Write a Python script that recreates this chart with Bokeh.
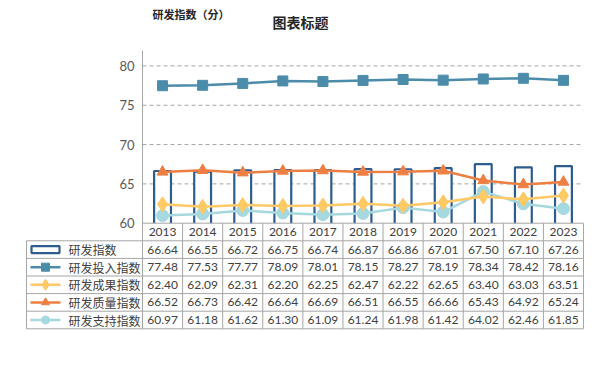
from bokeh.plotting import figure
from bokeh.models import Range1d, FixedTicker
from bokeh.core.properties import value
from bokeh.embed import file_html
from bokeh.resources import INLINE

# ---------------- data ----------------
years = ["2013", "2014", "2015", "2016", "2017", "2018", "2019", "2020", "2021", "2022", "2023"]
rd_index = [66.64, 66.55, 66.72, 66.75, 66.74, 66.87, 66.86, 67.01, 67.50, 67.10, 67.26]
rd_input = [77.48, 77.53, 77.77, 78.09, 78.01, 78.15, 78.27, 78.19, 78.34, 78.42, 78.16]
rd_output = [62.40, 62.09, 62.31, 62.20, 62.25, 62.47, 62.22, 62.65, 63.40, 63.03, 63.51]
rd_quality = [66.52, 66.73, 66.42, 66.64, 66.69, 66.51, 66.55, 66.66, 65.43, 64.92, 65.24]
rd_support = [60.97, 61.18, 61.62, 61.30, 61.09, 61.24, 61.98, 61.42, 64.02, 62.46, 61.85]
series_names = ["研发指数", "研发投入指数", "研发成果指数", "研发质量指数", "研发支持指数"]
y_ticks = [60, 65, 70, 75, 80]
title_text = "图表标题"
y_label_text = "研发指数（分）"

# ---------------- style ----------------
C_BAR = "#2F5C8E"
C_IN = "#4C8CAB"
C_OUT = "#FFC966"
C_QUAL = "#EE7F43"
C_SUP = "#A6D8DF"
C_GRID = "#A6A6A6"
C_TEXT = "#404040"
NUM_FONT = "Lato"
CJK_FONT = "Noto Sans CJK SC"

W, H = 592, 345
BORDER_L = 23
n = len(years)
idx = list(range(n))

# picture-pixel geometry of the chart area
AX_X = 142.0            # x of y axis (x = -0.5)
XS = 441.0 / n          # px per category
Y_BASE_PX = 222.7       # y of value 60
YS = 157.3 / 20.0       # px per value unit
Y_MIN = 60
Y_AXIS_TOP = 82
ROW_H = 17.6
BAR_W = 0.42


def pxx(px):
    return -0.5 + (px - AX_X) / XS


def pyy(py):
    return Y_MIN - (py - Y_BASE_PX) / YS


p = figure(width=W, height=H, output_backend="svg", toolbar_location=None,
           x_range=Range1d(pxx(BORDER_L), pxx(W)),
           y_range=Range1d(pyy(H), pyy(0)),
           x_axis_location=None,
           min_border_left=BORDER_L, min_border_right=0,
           min_border_top=0, min_border_bottom=0,
           background_fill_color="white", border_fill_color="white")
p.outline_line_color = None
p.grid.visible = False

# y axis fixed at the left edge of the category area
yax = p.yaxis[0]
yax.fixed_location = -0.5
yax.bounds = (Y_MIN, Y_AXIS_TOP)
yax.ticker = FixedTicker(ticks=y_ticks, minor_ticks=[])
yax.axis_line_color = C_GRID
yax.major_tick_out = 0
yax.major_tick_in = 0
yax.minor_tick_out = 0
yax.minor_tick_in = 0
yax.major_label_text_font = NUM_FONT
yax.major_label_text_font_size = "13px"
yax.major_label_text_color = "#595959"
yax.major_label_standoff = 8

# dashed horizontal grid lines over the category area
gt = y_ticks[1:]
p.segment(x0=[-0.5] * len(gt), y0=gt, x1=[n - 0.5] * len(gt), y1=gt,
          line_color=C_GRID, line_width=1, line_dash="4 3")

# bars: white fill, outline open at the bottom
p.vbar(x=idx, top=rd_index, bottom=Y_MIN, width=BAR_W, fill_color="white", line_color=None)
bx = [[i - BAR_W / 2, i - BAR_W / 2, i + BAR_W / 2, i + BAR_W / 2] for i in idx]
by = [[Y_MIN, v, v, Y_MIN] for v in rd_index]
p.multi_line(xs=bx, ys=by, line_color=C_BAR, line_width=2.2)

# lines
p.line(idx, rd_support, line_color=C_SUP, line_width=2.5)
p.scatter(idx, rd_support, marker="circle", size=12, color=C_SUP)
p.line(idx, rd_output, line_color=C_OUT, line_width=2.5)
p.scatter(idx, rd_output, marker="diamond", size=15, color=C_OUT)
p.line(idx, rd_quality, line_color=C_QUAL, line_width=2.5)
p.scatter(idx, rd_quality, marker="triangle", size=11, color=C_QUAL)
p.line(idx, rd_input, line_color=C_IN, line_width=2.5)
p.scatter(idx, rd_input, marker="square", size=10, color=C_IN)

# titles
p.text(x=[pxx(300)], y=[pyy(21.5)], text=[title_text], text_align="center", text_baseline="middle",
       text_font=value(CJK_FONT), text_font_size=value("14px"), text_font_style="bold",
       text_color="#262626")
p.text(x=[pxx(190.5)], y=[pyy(13.5)], text=[y_label_text], text_align="center", text_baseline="middle",
       text_font=value(CJK_FONT), text_font_size=value("11px"), text_font_style="bold",
       text_color="#262626")

# ---------------- data table ----------------
nrows = len(series_names)
row_b = [pyy(Y_BASE_PX + k * ROW_H) for k in range(nrows + 2)]   # row boundaries (year row + series rows)
row_c = [(row_b[k] + row_b[k + 1]) / 2 for k in range(nrows + 1)]
x_left = pxx(26)

# horizontal lines
hx0 = [-0.5] + [x_left] * (nrows + 1)
hx1 = [n - 0.5] * (nrows + 2)
p.segment(x0=hx0, y0=row_b, x1=hx1, y1=row_b, line_color=C_GRID, line_width=1)
# vertical lines
vx = [i - 0.5 for i in range(n + 1)] + [x_left]
vy0 = [row_b[0]] * (n + 1) + [row_b[1]]
vy1 = [row_b[-1]] * (n + 2)
p.segment(x0=vx, y0=vy0, x1=vx, y1=vy1, line_color=C_GRID, line_width=1)

# year row
p.text(x=idx, y=[row_c[0]] * n, text=years, text_align="center", text_baseline="middle",
       text_font=value(NUM_FONT), text_font_size=value("12px"), text_color=C_TEXT)

all_series = [rd_index, rd_input, rd_output, rd_quality, rd_support]
for r, vals in enumerate(all_series):
    p.text(x=idx, y=[row_c[r + 1]] * n, text=[f"{v:.2f}" for v in vals], text_align="center",
           text_baseline="middle", text_font=value(NUM_FONT), text_font_size=value("12px"),
           text_color=C_TEXT)

# legend column
sx0, sx1 = pxx(30), pxx(60)
sxc = (sx0 + sx1) / 2
label_x = pxx(68)
leg_y = row_c[1:]
p.rect(x=[sxc], y=[leg_y[0]], width=28, height=7, width_units="screen", height_units="screen",
       fill_color="white", line_color=C_BAR, line_width=2.2)
legend_styles = [(C_IN, "square", 8), (C_OUT, "diamond", 11), (C_QUAL, "triangle", 8), (C_SUP, "circle", 8)]
for k, (c, m, s) in enumerate(legend_styles):
    yy = leg_y[k + 1]
    p.segment(x0=[sx0], y0=[yy], x1=[sx1], y1=[yy], line_color=c, line_width=2.5)
    p.scatter([sxc], [yy], marker=m, size=s, color=c)
p.text(x=[label_x] * nrows, y=leg_y, text=series_names, text_align="left", text_baseline="middle",
       text_font=value(CJK_FONT), text_font_size=value("12px"), text_color=C_TEXT)

open("out.html", "w").write(file_html(p, INLINE))
